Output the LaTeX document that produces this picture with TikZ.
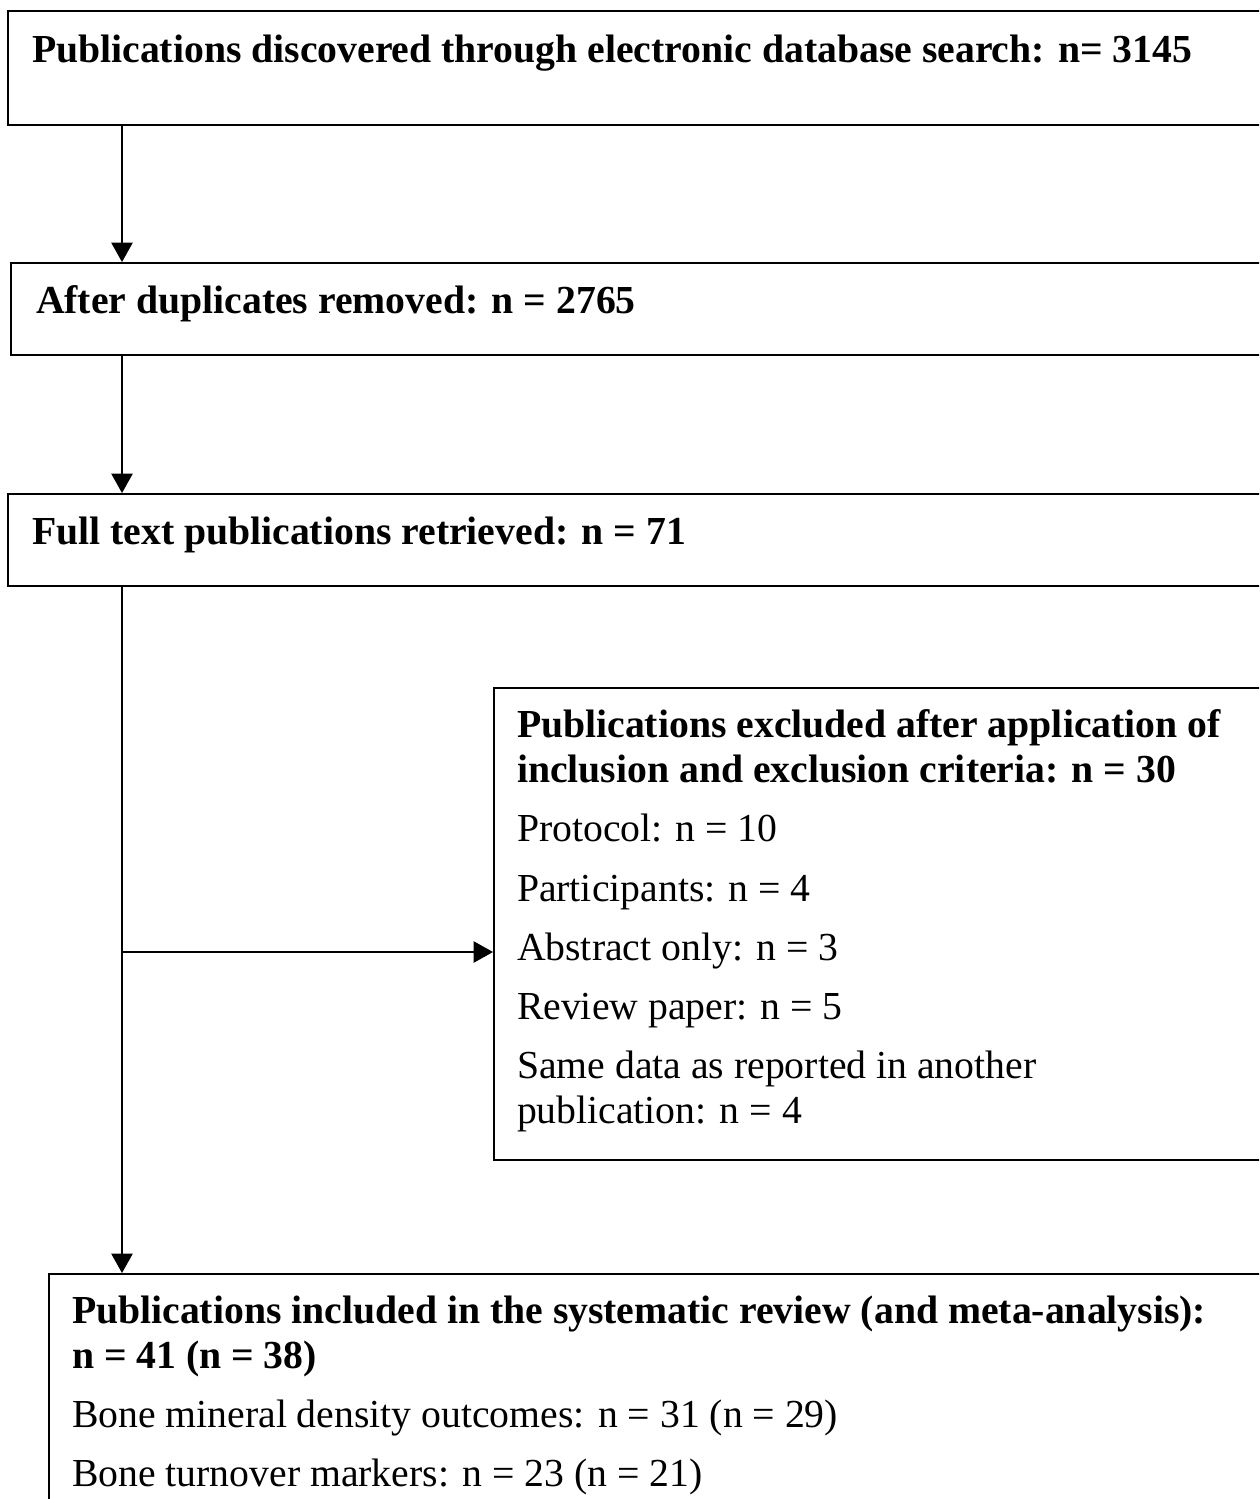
\documentclass[tikz,border=0pt]{standalone}
\usepackage{fontspec}
\setmainfont{Liberation Serif}
\usetikzlibrary{arrows.meta,positioning,fit}

\tikzset{
  box/.style={draw, rectangle, inner sep=0pt},
  txt/.style={anchor=north west, inner sep=0pt, align=left,
    font=\fontsize{22.6}{25.6}\selectfont},
  flow/.style={-{Triangle[length=11pt,width=12pt]}},
}
\newcommand{\gap}{\\[8pt]}

\begin{document}
\begin{tikzpicture}[x=0.02cm, y=-0.02cm, line width=1.1pt]

  \useasboundingbox (0,0) rectangle (1259,1499);
  \clip (0,0) rectangle (1259,1499);

  \newcommand\R{1300}; % boxes run off the right edge
  \coordinate (spine) at (122,0);
  \coordinate (branch) at (122,952);

  \node[box, fit={(8,11) (\R,125)}] (search) {};
  \node[box, fit={(11,263) (\R,355)}] (dupl) {};
  \node[box, fit={(8,494) (\R,586)}] (full) {};
  \node[box, fit={(494,688) (\R,1160)}] (excl) {};
  \node[box, fit={(49,1274) (\R,1560)}] (incl) {};

  \node[txt] (searchtxt) at ([shift={(24,24)}]search.north west)
    {\textbf{Publications discovered through electronic database search: n= 3145}};
  \node[txt] (dupltxt) at ([shift={(25,23)}]dupl.north west)
    {\textbf{After duplicates removed: n = 2765}};
  \node[txt] (fulltxt) at ([shift={(24,23)}]full.north west)
    {\textbf{Full text publications retrieved: n = 71}};
  \node[txt] (excltxt) at ([shift={(23,22)}]excl.north west)
    {\textbf{Publications excluded after application of}\\
     \textbf{inclusion and exclusion criteria: n = 30}\gap
     Protocol: n = 10\gap
     Participants: n = 4\gap
     Abstract only: n = 3\gap
     Review paper: n = 5\gap
     Same data as reported in another\\
     publication: n = 4};
  \node[txt] (incltxt) at ([shift={(23,22)}]incl.north west)
    {\textbf{Publications included in the systematic review (and meta-analysis):}\\
     \textbf{n = 41 (n = 38)}\gap
     Bone mineral density outcomes: n = 31 (n = 29)\gap
     Bone turnover markers: n = 23 (n = 21)};

  \draw[flow] (search.south -| spine) -- (dupl.north -| spine); %% search->dupl
  \draw[flow] (dupl.south -| spine) -- (full.north -| spine);   %% dupl->full
  \draw[flow] (full.south -| spine) -- (incl.north -| spine);   %% full->incl
  \draw[flow] (branch) -- (branch -| excl.west);                %% ->excl
\end{tikzpicture}
\end{document}
